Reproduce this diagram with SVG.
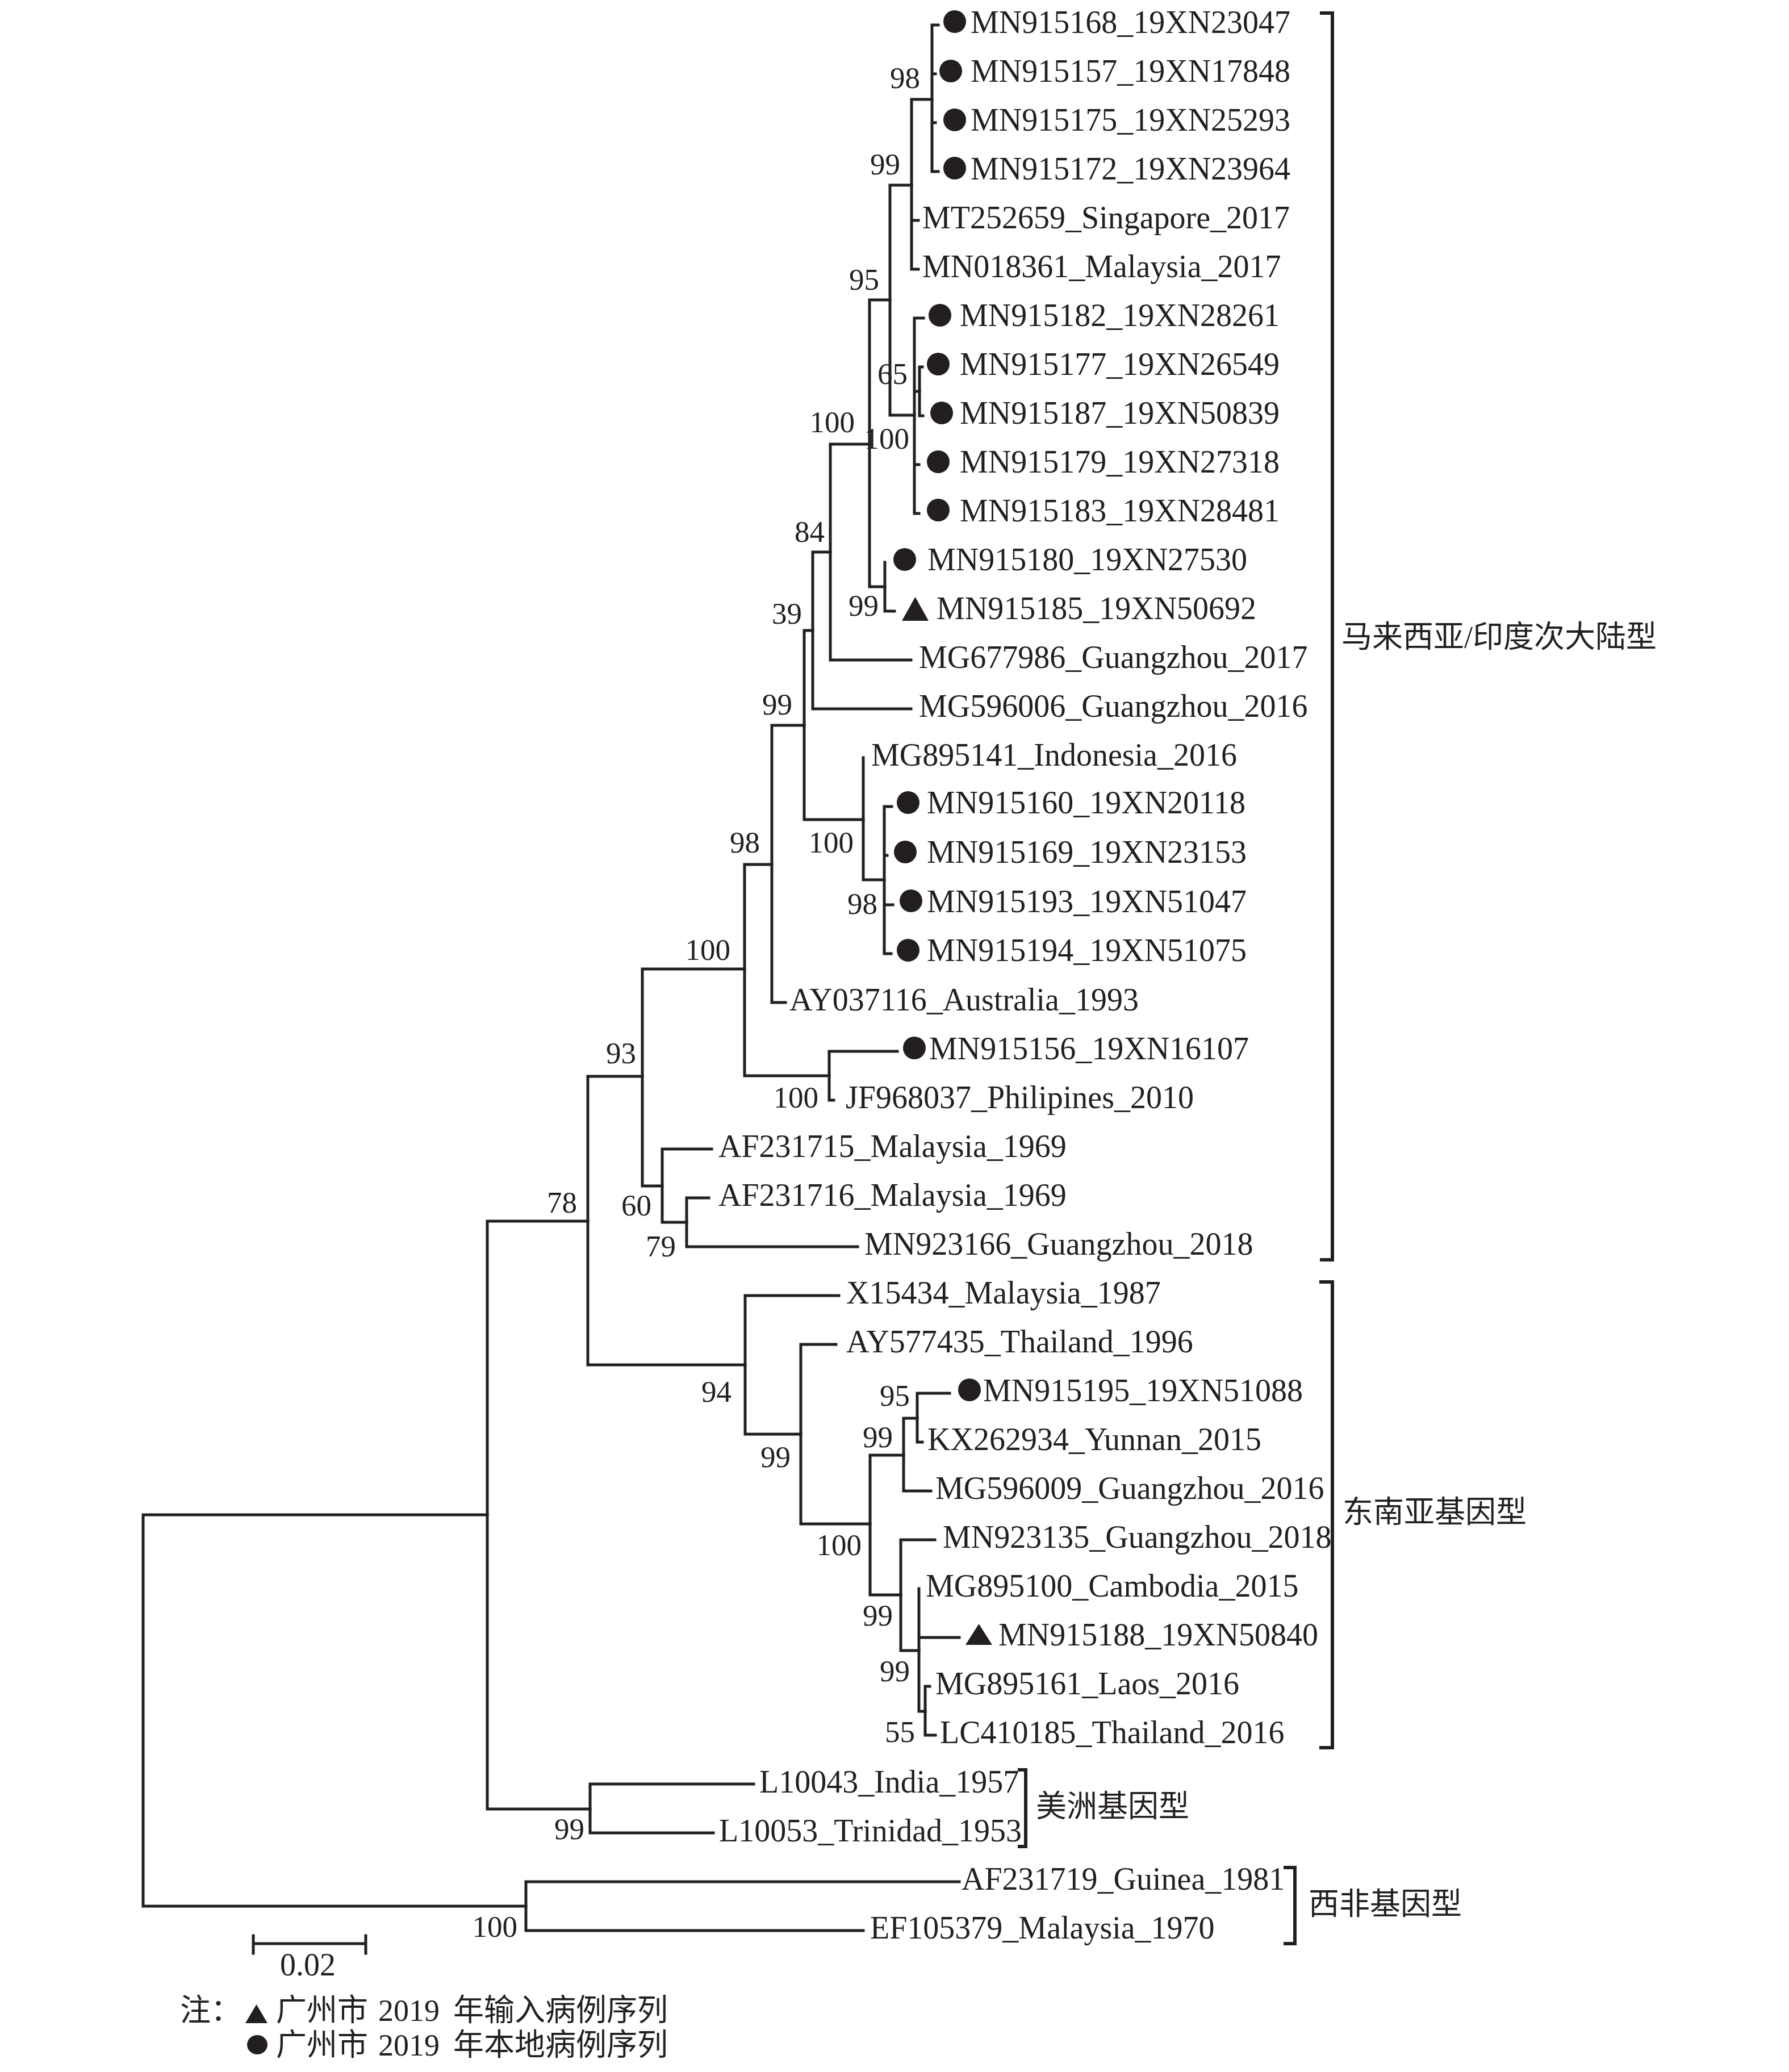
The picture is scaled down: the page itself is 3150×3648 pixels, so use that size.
<svg xmlns="http://www.w3.org/2000/svg" width="3150" height="3648" viewBox="0 0 3150 3648">
<style>
.br{stroke:#231f20;stroke-width:5;fill:none;stroke-linecap:square}
.bk{stroke:#231f20;stroke-width:6;fill:none}
.lf{font-family:"Liberation Serif",serif;font-size:56px;fill:#231f20}
.bs{font-family:"Liberation Serif",serif;font-size:53px;fill:#231f20;text-anchor:end}
.cn{font-family:"Liberation Serif","Noto Sans CJK SC",sans-serif;font-size:54px;fill:#231f20}
.mk{fill:#231f20}
</style>
<rect width="3150" height="3648" fill="#fff"/>
<g id="connectors" class="br">
<path d="M252 2667V3356M252 2667H858M252 3356H926"/>
<path d="M858 2150V3185M858 2150H1035M858 3185H1039"/>
<path d="M926 3313V3399M926 3313H1689M926 3399H1520"/>
<path d="M1039 3141V3227M1039 3141H1327M1039 3227H1256"/>
<path d="M1035 1895V2403M1035 1895H1131M1035 2403H1312"/>
<path d="M1131 1706V2088M1131 1706H1311M1131 2088H1166"/>
<path d="M1311 1522V1894M1311 1522H1359M1311 1894H1460"/>
<path d="M1460 1851V1937M1460 1851H1580M1460 1937H1468"/>
<path d="M1359 1277V1765M1359 1277H1416M1359 1765H1383"/>
<path d="M1416 1110V1443M1416 1110H1431M1416 1443H1520"/>
<path d="M1431 972V1248M1431 972H1462M1431 1248H1604"/>
<path d="M1520 1334V1549M1520 1549H1557"/>
<path d="M1557 1420V1679M1557 1420H1570M1557 1506H1562M1557 1593H1572M1557 1679H1569"/>
<path d="M1462 782V1162M1462 782H1531M1462 1162H1604"/>
<path d="M1531 528V1033M1531 528H1567M1531 1033H1558"/>
<path d="M1558 990V1076M1558 1076H1575"/>
<path d="M1567 326V731M1567 326H1605M1567 731H1610"/>
<path d="M1605 175V474M1605 175H1641M1605 388H1617M1605 474H1617"/>
<path d="M1641 44V302M1641 44H1652M1641 130H1647M1641 216H1647M1641 302H1652"/>
<path d="M1610 560V904M1610 560H1626M1610 689H1619M1610 818H1618M1610 904H1618"/>
<path d="M1619 646V732M1619 646H1624M1619 732H1625"/>
<path d="M1312 2281V2525M1312 2281H1477M1312 2525H1410"/>
<path d="M1410 2367V2683M1410 2367H1472M1410 2683H1532"/>
<path d="M1532 2562V2808M1532 2562H1591M1532 2808H1586"/>
<path d="M1591 2497V2625M1591 2497H1615M1591 2625H1639"/>
<path d="M1615 2453V2539M1615 2453H1672M1615 2539H1624"/>
<path d="M1586 2711V2906M1586 2711H1646M1586 2906H1618"/>
<path d="M1618 2797V3013M1618 2883H1689M1618 3013H1629"/>
<path d="M1629 2969V3055M1629 2969H1637M1629 3055H1647"/>
<path d="M1166 2023V2152M1166 2023H1253M1166 2152H1209"/>
<path d="M1209 2109V2195M1209 2109H1248M1209 2195H1510"/>
</g>
<g id="bootstrap">
<g id="n98a"><text class="bs" x="1620" y="155">98</text></g>
<g id="n99a"><text class="bs" x="1585" y="307">99</text></g>
<g id="n95a"><text class="bs" x="1548" y="510">95</text></g>
<g id="n65"><text class="bs" x="1598" y="676">65</text></g>
<g id="n100a"><text class="bs" x="1505" y="761">100</text></g>
<g id="n100b"><text class="bs" x="1601" y="790">100</text></g>
<g id="n84"><text class="bs" x="1452" y="954">84</text></g>
<g id="n99b"><text class="bs" x="1547" y="1084">99</text></g>
<g id="n39"><text class="bs" x="1412" y="1098">39</text></g>
<g id="n99c"><text class="bs" x="1395" y="1258">99</text></g>
<g id="n98b"><text class="bs" x="1338" y="1501">98</text></g>
<g id="n100c"><text class="bs" x="1503" y="1501">100</text></g>
<g id="n98c"><text class="bs" x="1545" y="1609">98</text></g>
<g id="n100d"><text class="bs" x="1286" y="1690">100</text></g>
<g id="n93"><text class="bs" x="1120" y="1872">93</text></g>
<g id="n100e"><text class="bs" x="1441" y="1950">100</text></g>
<g id="n78"><text class="bs" x="1016" y="2135">78</text></g>
<g id="n60"><text class="bs" x="1147" y="2140">60</text></g>
<g id="n79"><text class="bs" x="1190" y="2212">79</text></g>
<g id="n94"><text class="bs" x="1288" y="2468">94</text></g>
<g id="n99d"><text class="bs" x="1392" y="2583">99</text></g>
<g id="n95b"><text class="bs" x="1602" y="2475">95</text></g>
<g id="n99e"><text class="bs" x="1572" y="2548">99</text></g>
<g id="n100f"><text class="bs" x="1517" y="2738">100</text></g>
<g id="n99f"><text class="bs" x="1572" y="2862">99</text></g>
<g id="n99g"><text class="bs" x="1602" y="2960">99</text></g>
<g id="n55"><text class="bs" x="1611" y="3067">55</text></g>
<g id="n99h"><text class="bs" x="1029" y="3238">99</text></g>
<g id="n100g"><text class="bs" x="911" y="3410">100</text></g>
</g>
<g id="leaves">
<g id="l1"><circle class="mk" cx="1681" cy="38" r="20"/><text class="lf" x="1709" y="58">MN915168_19XN23047</text></g>
<g id="l2"><circle class="mk" cx="1674" cy="125" r="20"/><text class="lf" x="1709" y="144">MN915157_19XN17848</text></g>
<g id="l3"><circle class="mk" cx="1681" cy="211" r="20"/><text class="lf" x="1709" y="230">MN915175_19XN25293</text></g>
<g id="l4"><circle class="mk" cx="1681" cy="296" r="20"/><text class="lf" x="1709" y="316">MN915172_19XN23964</text></g>
<g id="l5"><text class="lf" x="1624" y="402">MT252659_Singapore_2017</text></g>
<g id="l6"><text class="lf" x="1624" y="488">MN018361_Malaysia_2017</text></g>
<g id="l7"><circle class="mk" cx="1655" cy="555" r="20"/><text class="lf" x="1690" y="574">MN915182_19XN28261</text></g>
<g id="l8"><circle class="mk" cx="1652" cy="641" r="20"/><text class="lf" x="1690" y="660">MN915177_19XN26549</text></g>
<g id="l9"><circle class="mk" cx="1658" cy="727" r="20"/><text class="lf" x="1690" y="746">MN915187_19XN50839</text></g>
<g id="l10"><circle class="mk" cx="1652" cy="813" r="20"/><text class="lf" x="1690" y="832">MN915179_19XN27318</text></g>
<g id="l11"><circle class="mk" cx="1652" cy="898" r="20"/><text class="lf" x="1690" y="918">MN915183_19XN28481</text></g>
<g id="l12"><circle class="mk" cx="1593" cy="985" r="20"/><text class="lf" x="1633" y="1004">MN915180_19XN27530</text></g>
<g id="l13"><polygon class="mk" points="1588,1093 1635,1093 1611.5,1051"/><text class="lf" x="1649" y="1090">MN915185_19XN50692</text></g>
<g id="l14"><text class="lf" x="1618" y="1176">MG677986_Guangzhou_2017</text></g>
<g id="l15"><text class="lf" x="1618" y="1262">MG596006_Guangzhou_2016</text></g>
<g id="l16"><text class="lf" x="1534" y="1348">MG895141_Indonesia_2016</text></g>
<g id="l17"><circle class="mk" cx="1599" cy="1413" r="20"/><text class="lf" x="1632" y="1432">MN915160_19XN20118</text></g>
<g id="l18"><circle class="mk" cx="1594" cy="1500" r="20"/><text class="lf" x="1632" y="1519">MN915169_19XN23153</text></g>
<g id="l19"><circle class="mk" cx="1604" cy="1586" r="20"/><text class="lf" x="1632" y="1606">MN915193_19XN51047</text></g>
<g id="l20"><circle class="mk" cx="1599" cy="1673" r="20"/><text class="lf" x="1632" y="1692">MN915194_19XN51075</text></g>
<g id="l21"><text class="lf" x="1390" y="1779">AY037116_Australia_1993</text></g>
<g id="l22"><circle class="mk" cx="1610" cy="1845" r="20"/><text class="lf" x="1636" y="1865">MN915156_19XN16107</text></g>
<g id="l23"><text class="lf" x="1489" y="1951">JF968037_Philipines_2010</text></g>
<g id="l24"><text class="lf" x="1265" y="2037">AF231715_Malaysia_1969</text></g>
<g id="l25"><text class="lf" x="1265" y="2123">AF231716_Malaysia_1969</text></g>
<g id="l26"><text class="lf" x="1522" y="2209">MN923166_Guangzhou_2018</text></g>
<g id="l27"><text class="lf" x="1490" y="2295">X15434_Malaysia_1987</text></g>
<g id="l28"><text class="lf" x="1490" y="2381">AY577435_Thailand_1996</text></g>
<g id="l29"><circle class="mk" cx="1707" cy="2447" r="20"/><text class="lf" x="1731" y="2467">MN915195_19XN51088</text></g>
<g id="l30"><text class="lf" x="1633" y="2553">KX262934_Yunnan_2015</text></g>
<g id="l31"><text class="lf" x="1647" y="2639">MG596009_Guangzhou_2016</text></g>
<g id="l32"><text class="lf" x="1660" y="2725">MN923135_Guangzhou_2018</text></g>
<g id="l33"><text class="lf" x="1630" y="2811">MG895100_Cambodia_2015</text></g>
<g id="l34"><polygon class="mk" points="1700,2896 1747,2896 1723.5,2859"/><text class="lf" x="1758" y="2897">MN915188_19XN50840</text></g>
<g id="l35"><text class="lf" x="1647" y="2983">MG895161_Laos_2016</text></g>
<g id="l36"><text class="lf" x="1655" y="3069">LC410185_Thailand_2016</text></g>
<g id="l37"><text class="lf" x="1337" y="3156">L10043_India_1957</text></g>
<g id="l38"><text class="lf" x="1266" y="3242">L10053_Trinidad_1953</text></g>
<g id="l39"><text class="lf" x="1693" y="3327">AF231719_Guinea_1981</text></g>
<g id="l40"><text class="lf" x="1532" y="3413">EF105379_Malaysia_1970</text></g>
</g>
<g id="clades">
<g id="clade-mi"><path class="bk" d="M2324 23H2346V2218H2324"/><text class="cn" x="2362" y="1140">马来西亚/印度次大陆型</text></g>
<g id="clade-sea"><path class="bk" d="M2323 2257H2346V3077H2323"/><text class="cn" x="2364" y="2681">东南亚基因型</text></g>
<g id="clade-am"><path class="bk" d="M1792 3116H1806V3251H1792"/><text class="cn" x="1824" y="3199">美洲基因型</text></g>
<g id="clade-wa"><path class="bk" d="M2260 3288H2280V3422H2260"/><text class="cn" x="2304" y="3371">西非基因型</text></g>
</g>
<g id="scalebar">
<path class="br" d="M446 3422H644M446 3408V3439M644 3408V3439"/>
<text class="lf" x="542" y="3478" text-anchor="middle">0.02</text>
</g>
<g id="legend">
<text class="cn" y="3558"><tspan x="317">注：</tspan></text>
<polygon class="mk" points="432,3562 471,3562 451.5,3529"/>
<text class="cn" y="3558"><tspan x="486">广州市</tspan><tspan x="666">2019</tspan><tspan x="798">年输入病例序列</tspan></text>
<ellipse class="mk" cx="453" cy="3600" rx="18" ry="17"/>
<text class="cn" y="3619"><tspan x="486">广州市</tspan><tspan x="666">2019</tspan><tspan x="798">年本地病例序列</tspan></text>
</g>
</svg>
